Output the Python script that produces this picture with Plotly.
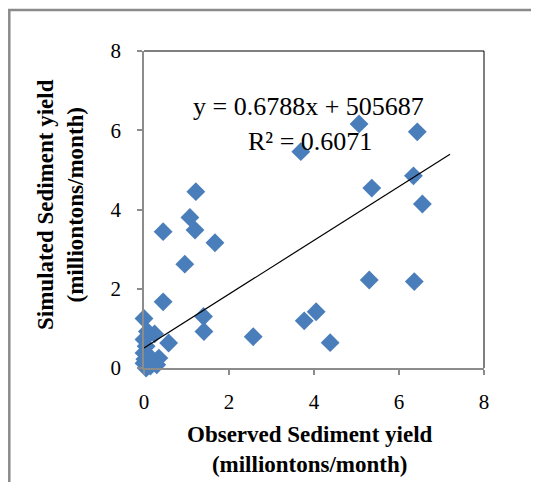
import plotly.graph_objects as go

# Observed vs simulated sediment yield (million tons / month)
observed = [5.06, 6.43, 3.69, 6.34, 5.36, 6.55, 5.30, 6.36, 4.05, 3.77, 4.38,
            1.22, 1.08, 1.20, 0.45, 1.67, 0.96, 0.45, 1.40, 1.41, 2.57,
            0.00, 0.08, 0.25, 0.00, 0.05, 0.58, 0.00, 0.12, 0.35, 0.30,
            0.00, 0.05, 0.15, 0.02]
simulated = [6.16, 5.96, 5.46, 4.85, 4.54, 4.14, 2.22, 2.18, 1.42, 1.19, 0.64,
             4.45, 3.80, 3.48, 3.44, 3.16, 2.62, 1.67, 1.30, 0.92, 0.79,
             1.25, 0.92, 0.86, 0.72, 0.55, 0.63, 0.38, 0.30, 0.25, 0.08,
             0.12, 0.00, 0.05, 0.22]

# Linear trendline (as shown on the chart, intercept in tons -> millions)
slope = 0.6788
intercept = 505687 / 1e6
trend_x = [0.0, 7.2]
trend_y = [slope * x + intercept for x in trend_x]

tick_vals = [0, 2, 4, 6, 8]
tick_text = ["0", "2", "4", "6", "8"]

eq_text = "y = 0.6788x + 505687"
r2_text = "R² = 0.6071"
x_title = "<b>Observed Sediment yield<br>(milliontons/month)</b>"
y_title = "<b>Simulated Sediment yield<br>(milliontons/month)</b>"

serif = "Liberation Serif, Times New Roman, serif"
axis_gray = "#8c8c8c"

# page is offset by the 8px body margin; plot area sits at page px 144..484 x 51..368
PL, PR, PT, PB = 144, 484, 51, 368
W, H = PR - PL, PB - PT


def px(x):
    return (x - PL) / W


def py(y):
    return (PB - y) / H


fig = go.Figure()
fig.add_trace(go.Scatter(
    x=observed, y=simulated, mode="markers",
    marker=dict(symbol="diamond", size=14.5, color="#4a7ebb", line=dict(width=0)),
    cliponaxis=False, showlegend=False,
))
fig.add_trace(go.Scatter(
    x=trend_x, y=trend_y, mode="lines",
    line=dict(color="black", width=1.2),
    cliponaxis=False, showlegend=False,
))

axis_common = dict(
    range=[0, 8], tickvals=tick_vals, ticktext=tick_text,
    showgrid=False, zeroline=False, showline=True, linecolor=axis_gray, linewidth=1.5,
    ticks="outside", ticklen=5, tickcolor=axis_gray, tickwidth=1.5,
    tickfont=dict(family=serif, size=21, color="black"),
)
fig.update_xaxes(**axis_common, ticklabelstandoff=9)
fig.update_yaxes(**axis_common, ticklabelstandoff=12)

fig.update_layout(
    width=531, height=474,
    margin=dict(l=136, r=55, t=43, b=114),
    paper_bgcolor="white", plot_bgcolor="white",
    shapes=[
        dict(type="line", xref="paper", yref="paper", x0=0, x1=1, y0=1, y1=1,
             line=dict(color="black", width=1)),
        dict(type="line", xref="paper", yref="paper", x0=1, x1=1, y0=0, y1=1,
             line=dict(color="black", width=1)),
        dict(type="rect", xref="paper", yref="paper",
             x0=px(9.3), x1=1.3, y0=-0.6, y1=py(10),
             line=dict(color="#8a8a8a", width=2.5)),
    ],
    annotations=[
        dict(xref="paper", yref="paper", x=px(308), y=py(106),
             text=eq_text, showarrow=False, xanchor="center", yanchor="middle",
             font=dict(family=serif, size=26, color="black")),
        dict(xref="paper", yref="paper", x=px(310), y=py(141),
             text=r2_text, showarrow=False, xanchor="center", yanchor="middle",
             font=dict(family=serif, size=26, color="black")),
        dict(xref="paper", yref="paper", x=px(310), y=py(449),
             text=x_title, showarrow=False, xanchor="center", yanchor="middle",
             font=dict(family=serif, size=23, color="black")),
        dict(xref="paper", yref="paper", x=px(60), y=py(205),
             text=y_title, showarrow=False, xanchor="center", yanchor="middle",
             textangle=-90,
             font=dict(family=serif, size=23, color="black")),
    ],
)

fig.write_html("out.html")
